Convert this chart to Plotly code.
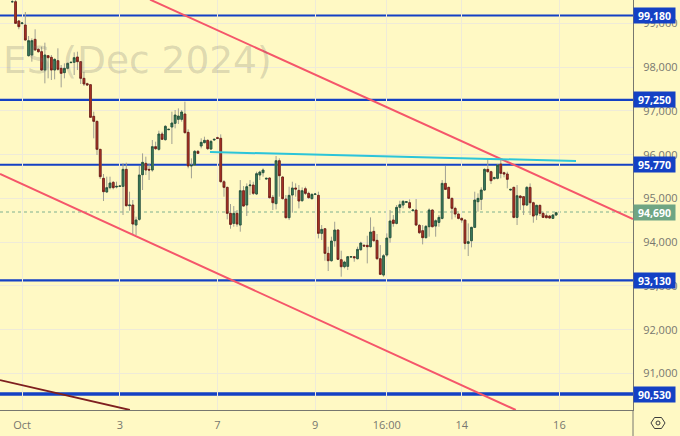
import plotly.graph_objects as go

opens = [99495,99495,99055,98995,98963,98262,98277,98635,98407,98353,97934,98262,98224,97934,98148,97973,97874,97973,98102,98110,98231,98125,97744,97622,97599,96876,96761,96122,95459,95147,95246,95367,95261,95276,95276,95664,94834,94850,94392,94522,95543,95802,95664,95649,96183,96122,96472,96343,96571,96632,96716,96807,96807,96929,96510,95741,95764,96076,96198,96274,96327,96129,96335,96388,96373,
95382,95253,94659,94430,94659,94392,95177,94849,95291,95306,95101,95535,95588,95443,95466,95025,94880,95862,95489,94986,94560,95078,95238,95184,94948,95222,95116,94994,95093,95070,94202,94308,93745,93577,94034,94278,93600,93440,93448,93661,93669,93623,93828,93928,93928,93897,94247,94042,93623,93250,93707,94103,94506,94430,94796,94849,94910,94903,94720,94735,94385,94263,94103,94354,94735,94369,94453,94544,95344,95253,95002,94773,94643,94544,94506,93973,94034,94339,94925,94979,95192,95664,95611,95451,95459,95786,95588,95558,95192,95253,94567,95055,95040,94849,95253,94902,94621,94842,94659,94605,94598,94544,94621]
closes = [99495,99000,98925,99010,98620,98605,98605,98392,98353,97934,98277,98216,97934,98178,97950,97858,97973,98087,98110,98216,98125,97744,97615,97592,96853,96761,96122,95497,95154,95246,95352,95246,95276,95284,95664,94834,94850,94415,94507,95535,95824,95649,95649,96183,96137,96472,96350,96647,96579,96723,96906,96883,96975,96502,95741,95756,96076,96030,96282,96327,96137,96304,96350,96373,95383,
95253,94659,94407,94659,94415,95177,94826,95268,95306,95116,95565,95603,95649,95459,95017,94902,95862,95520,94994,94560,95070,95238,95215,94941,95177,95116,95017,95093,95101,94202,94293,93745,93577,94027,94278,93608,93440,93547,93669,93669,93646,93836,93981,93912,93897,94232,94034,93623,93265,93691,94095,94484,94430,94796,94857,94933,94925,94788,94735,94392,94217,94103,94362,94735,94354,94491,94567,95344,95207,95002,94773,94643,94544,94506,93973,94011,94339,94963,95002,95192,95664,95611,95405,95474,95763,95573,95558,95436,95207,94567,95062,95017,94849,95253,94902,94598,94842,94659,94567,94560,94552,94621,94674]
highs = [99534,99534,99077,99025,99260,98711,98658,98864,98430,98468,98559,98277,98277,98201,98430,98049,98087,98102,98118,98338,98353,98140,97896,97645,97615,96982,96777,96129,95558,95497,95497,95398,95383,95300,95802,95817,95154,94964,94583,95741,96030,95954,95802,96335,96297,96548,96525,96678,96590,96982,97020,97058,97020,97211,96579,95916,96106,96106,96373,96411,96350,96335,96365,96411,96464,
95420,95268,94872,94826,94735,95420,95283,95344,95420,95382,95611,95634,95687,95475,95481,95078,95969,95916,95512,95078,95268,95382,95344,95306,95253,95268,95154,95116,95110,95154,94392,94316,93897,94126,94468,94293,93806,93577,93684,93680,93684,93897,94011,93958,94148,94567,94354,94187,93935,93729,94202,94735,94621,94849,94948,94963,94940,94979,94750,94986,94415,94392,94392,94773,94750,94522,94621,95420,95740,95268,95017,94811,94659,94567,94522,94430,94354,95154,95116,95253,95687,95916,95634,95497,95786,95916,95611,95611,95222,95268,95306,95078,95055,95283,95344,94925,94857,94857,94697,94659,94621,94643,94697]
lows = [99475,98985,98865,98980,98605,98240,98125,98376,98330,97919,97630,97744,97706,97721,97919,97538,97744,97950,98095,97820,97934,97615,97569,97569,96838,96373,95992,95444,94941,95131,95208,95208,95230,95268,94621,94812,94720,94164,94164,94492,95192,95535,95421,95611,96106,96091,96335,96320,96560,96243,96601,96700,96754,96487,95688,95459,95741,96015,96144,96259,96106,96106,96320,96365,95360,
95040,94522,94308,94354,94354,94240,94811,94598,95078,95078,95078,95420,95497,95428,95002,94735,94750,95040,94979,94545,94506,94674,95040,94773,94925,95078,94994,94979,95085,94087,94049,93577,93341,93554,93897,93592,93212,93402,93364,93650,93554,93608,93806,93897,93516,93882,94011,93592,93250,93212,93669,93989,94354,94407,94659,94773,94895,94765,94705,94369,94187,93950,94087,94126,94339,94126,94354,94522,95192,94986,94522,94567,94522,94445,93836,93684,93882,94324,94697,94735,95169,95588,95329,95436,95436,95459,95481,95230,95177,94545,94392,94735,94621,94826,94621,94445,94506,94598,94552,94545,94537,94537,94598]
levels = [99180, 97250, 95770, 93130, 90530]
level_labels = ["99,180", "97,250", "95,770", "93,130", "90,530"]
level_widths = [2.2, 2.2, 2.2, 2.2, 3.5]
last_price = 94690
price_ticks = [91000, 92000, 93000, 94000, 95000, 96000, 97000, 98000, 99000]
time_ticks = [3, 33, 63, 93, 115, 138, 168]
time_labels = ["Oct", "3", "7", "9", "16:00", "14", "16"]
trend_upper = ([42.3, 190.6], [99543, 94530])
trend_lower = ([-3.78, 154.6], [95558, 90166])
trend_old = ([-3.78, 36.1], [90851, 90166])
trend_cyan = ([60.7, 173.1], [96061, 95855])

BG = "#FFF9C4"
GRID = "#EFEBD8"
AXIS = "#77776F"
TXT = "#77776F"
BLUE = "#1441C4"
PINK = "#F5566A"
FONT = "Open Sans"
xs = list(range(len(opens)))

fig = go.Figure()
# wicks (grey), then bodies on top
fig.add_trace(go.Candlestick(x=xs, open=opens, high=highs, low=lows, close=closes,
    increasing=dict(line=dict(color="#A0A092", width=1), fillcolor="#A0A092"),
    decreasing=dict(line=dict(color="#A0A092", width=1), fillcolor="#A0A092"),
    whiskerwidth=0, showlegend=False, hoverinfo="skip"))
fig.add_trace(go.Candlestick(x=xs, open=opens, close=closes,
    high=[max(o, c) for o, c in zip(opens, closes)],
    low=[min(o, c) for o, c in zip(opens, closes)],
    increasing=dict(line=dict(color="#1F4F36", width=0.8), fillcolor="#3F8060"),
    decreasing=dict(line=dict(color="#6E1A12", width=0.8), fillcolor="#B03528"),
    whiskerwidth=0, showlegend=False))

for t, col, w in ((trend_upper, PINK, 2), (trend_lower, PINK, 2), (trend_old, "#7E1F1F", 1.8), (trend_cyan, "#2CC5D8", 2)):
    fig.add_trace(go.Scatter(x=t[0], y=t[1], mode="lines", line=dict(color=col, width=w),
                             showlegend=False, hoverinfo="skip"))

shapes = []
for lv, w in zip(levels, level_widths):
    shapes.append(dict(type="line", xref="paper", x0=0, x1=1, yref="y", y0=lv, y1=lv,
                       line=dict(color=BLUE, width=w), layer="below"))
shapes.append(dict(type="line", xref="paper", x0=0, x1=1, yref="y", y0=last_price, y1=last_price,
                   line=dict(color="#7FB08F", width=1, dash="dot"), layer="below"))
# settings icon on the axis corner
px = lambda v: v / 633
py = lambda v: (410 - v) / 410
hexa = [(651, 423), (654.5, 417.5), (661.5, 417.5), (665, 423), (661.5, 428.5), (654.5, 428.5)]
shapes.append(dict(type="path", xref="paper", yref="paper",
                   path="M " + " L ".join(f"{px(a):.4f} {py(b):.4f}" for a, b in hexa) + " Z",
                   line=dict(color="#3C3C3C", width=1)))
shapes.append(dict(type="circle", xref="paper", yref="paper", x0=px(656), x1=px(660), y0=py(425), y1=py(421),
                   line=dict(color="#3C3C3C", width=1)))
# axis corner: vertical divider below the plot
shapes.append(dict(type="line", xref="paper", yref="paper", x0=1, x1=1, y0=py(410), y1=py(436),
                   line=dict(color=AXIS, width=1)))

ann = [dict(text="ES (Dec 2024)", xref="paper", yref="paper", x=0.002, y=py(60), xanchor="left", yanchor="middle",
            showarrow=False, font=dict(family="DejaVu Sans", size=37.5, color="rgba(110,110,105,0.24)"))]
for lv, lab in zip(levels, level_labels):
    ann.append(dict(text=lab, xref="paper", yref="y", x=1, y=lv, xanchor="left", yanchor="middle",
                    showarrow=False, bgcolor=BLUE, width=41, height=15, borderpad=0,
                    font=dict(family=FONT, size=10.5, color="white", weight="bold")))
ann.append(dict(text=f"{last_price:,}", xref="paper", yref="y", x=1, y=last_price, xanchor="left", yanchor="middle",
                showarrow=False, bgcolor="#6FA583", width=41, height=15, borderpad=0,
                font=dict(family=FONT, size=10.5, color="white", weight="bold")))

fig.update_layout(
    width=680, height=436, margin=dict(l=0, r=47, t=0, b=26, autoexpand=False),
    paper_bgcolor=BG, plot_bgcolor=BG, showlegend=False, boxmode="overlay", boxgap=0.22,
    shapes=shapes, annotations=ann, font=dict(family=FONT, size=11, color=TXT),
    xaxis=dict(range=[-3.78, 190.6], tickmode="array", tickvals=time_ticks, ticktext=time_labels,
               showgrid=True, gridcolor=GRID, gridwidth=1, zeroline=False, rangeslider=dict(visible=False),
               showline=True, linecolor=AXIS, linewidth=1, ticks="outside", ticklen=5, tickcolor="rgba(0,0,0,0)",
               tickfont=dict(family=FONT, size=11, color=TXT)),
    yaxis=dict(range=[90166, 99534], side="right", tickmode="array", tickvals=price_ticks,
               tickformat=",", showgrid=True, gridcolor=GRID, gridwidth=1, zeroline=False,
               showline=True, linecolor=AXIS, linewidth=1, ticks="outside", ticklen=7, tickcolor="rgba(0,0,0,0)",
               tickfont=dict(family=FONT, size=11, color=TXT)),
)
fig.write_html("out.html", config={"displayModeBar": False},
               post_script="document.body.style.margin='0';document.documentElement.style.overflow='hidden';")
